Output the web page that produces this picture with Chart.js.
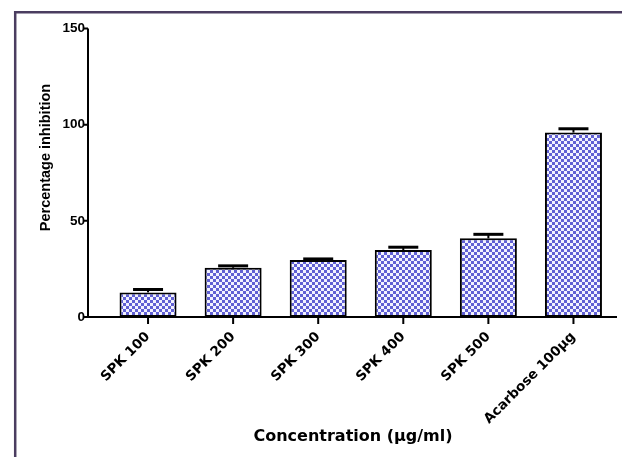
<!DOCTYPE html>
<html>
<head>
<meta charset="utf-8">
<script src="https://cdn.jsdelivr.net/npm/chart.js@4.4.1/dist/chart.umd.min.js"></script>
<style>
  html, body { margin: 0; padding: 0; background: #fff; }
  #wrap { width: 622px; height: 457px; position: relative; }
</style>
</head>
<body>
<div id="wrap"><canvas id="chart" width="622" height="457"></canvas></div>
<script>
const categories = ['SPK 100', 'SPK 200', 'SPK 300', 'SPK 400', 'SPK 500', 'Acarbose 100\u00b5g'];
const inhibition = [12.8, 25.6, 29.7, 34.8, 40.9, 95.9];
const errors = [1.5, 1.0, 0.5, 1.5, 2.1, 2.0];
const yTicks = [0, 50, 100, 150];

const barBlue = '#6060d4';
const frameColor = '#4b3d60';

function checker() {
  const c = document.createElement('canvas');
  c.width = 6; c.height = 6;
  const g = c.getContext('2d');
  g.fillStyle = '#f2f2ff';
  g.fillRect(0, 0, 6, 6);
  g.fillStyle = barBlue;
  g.fillRect(0, 0, 3, 3);
  g.fillRect(3, 3, 3, 3);
  return g.createPattern(c, 'repeat');
}

// frame, axes, error bars and titles drawn on top of the chart
const extras = {
  id: 'extras',
  beforeDraw(chart) {
    const ctx = chart.ctx;
    ctx.save();
    ctx.strokeStyle = frameColor;
    ctx.lineWidth = 2.5;
    ctx.beginPath();
    ctx.moveTo(15.2, 457);
    ctx.lineTo(15.2, 12.2);
    ctx.lineTo(622, 12.2);
    ctx.stroke();
    ctx.restore();
  },
  afterDatasetsDraw(chart) {
    const ctx = chart.ctx;
    const x = chart.scales.x;
    const y = chart.scales.y;
    const axisX = 88;
    const base = y.getPixelForValue(0);
    ctx.save();
    ctx.strokeStyle = '#000';
    // error bars
    chart.getDatasetMeta(0).data.forEach((bar, i) => {
      const top = y.getPixelForValue(inhibition[i] + errors[i]);
      ctx.lineWidth = 2;
      ctx.beginPath();
      ctx.moveTo(bar.x, bar.y);
      ctx.lineTo(bar.x, top);
      ctx.stroke();
      ctx.lineWidth = 3;
      ctx.beginPath();
      ctx.moveTo(bar.x - 15, top);
      ctx.lineTo(bar.x + 15, top);
      ctx.stroke();
    });
    ctx.lineWidth = 2;
    // y axis
    ctx.beginPath();
    ctx.moveTo(axisX, y.getPixelForValue(150));
    ctx.lineTo(axisX, base);
    yTicks.forEach(v => {
      const p = y.getPixelForValue(v);
      ctx.moveTo(axisX - 5, p);
      ctx.lineTo(axisX, p);
    });
    // x axis
    ctx.moveTo(axisX, base);
    ctx.lineTo(chart.chartArea.right + 1, base);
    categories.forEach((c, i) => {
      const p = x.getPixelForValue(i);
      ctx.moveTo(p, base);
      ctx.lineTo(p, base + 7);
    });
    ctx.stroke();
    // axis titles
    ctx.fillStyle = '#000';
    ctx.textAlign = 'center';
    ctx.textBaseline = 'middle';
    ctx.font = 'bold 16px "DejaVu Sans"';
    ctx.fillText('Concentration (\u00b5g/ml)', 353, 437);
    ctx.translate(45.5, 157.5);
    ctx.rotate(-Math.PI / 2);
    ctx.font = 'bold 14.5px "Liberation Sans"';
    ctx.fillText('Percentage inhibition', 0, 0);
    ctx.restore();
  }
};

const ctx = document.getElementById('chart').getContext('2d');
new Chart(ctx, {
  type: 'bar',
  data: {
    labels: categories,
    datasets: [{
      label: 'Percentage inhibition',
      data: inhibition,
      backgroundColor: checker(),
      borderColor: '#000',
      borderWidth: 2,
      borderSkipped: false,
      barPercentage: 0.67,
      categoryPercentage: 1
    }]
  },
  options: {
    responsive: false,
    animation: false,
    layout: { padding: { left: 0, right: 6, top: 23.5, bottom: 0 } },
    plugins: { legend: { display: false }, tooltip: { enabled: false } },
    scales: {
      x: {
        grid: { display: false, drawTicks: false },
        border: { display: false },
        ticks: {
          color: '#000',
          font: { family: 'DejaVu Sans', weight: 'bold', size: 13.5 },
          minRotation: 45,
          maxRotation: 45,
          padding: 12,
          autoSkip: false
        },
        afterFit(scale) { scale.height = 140; }
      },
      y: {
        min: 0,
        max: 150,
        grid: { display: false, drawTicks: false },
        border: { display: false },
        afterBuildTicks(scale) { scale.ticks = yTicks.map(v => ({ value: v })); },
        ticks: {
          color: '#000',
          font: { family: 'Liberation Sans', weight: 'bold', size: 13.5 },
          padding: 20.5
        },
        afterFit(scale) { scale.width = 105.5; }
      }
    }
  },
  plugins: [extras]
});
</script>
</body>
</html>
